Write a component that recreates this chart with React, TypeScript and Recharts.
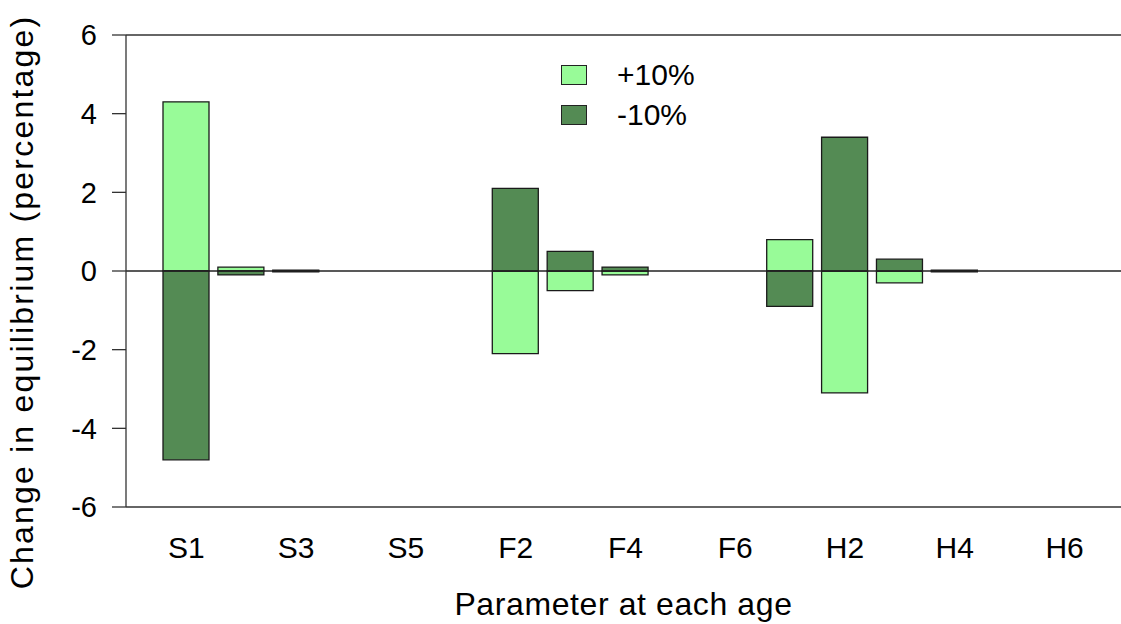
import React from "react";
import {
  Bar,
  BarChart,
  Label,
  Legend,
  ReferenceLine,
  XAxis,
  YAxis,
} from "recharts";

const categories = [
  "S1", "S2", "S3", "S4", "S5",
  "F1", "F2", "F3", "F4", "F5", "F6",
  "H1", "H2", "H3", "H4", "H5", "H6",
];
const plus10 = [4.3, 0.1, 0.02, 0, 0, 0, -2.1, -0.5, -0.1, 0, 0, 0.8, -3.1, -0.3, 0.02, 0, 0];
const minus10 = [-4.8, -0.1, -0.02, 0, 0, 0, 2.1, 0.5, 0.1, 0, 0, -0.9, 3.4, 0.3, -0.02, 0, 0];
const yTicks = [-6, -4, -2, 0, 2, 4, 6];

const types = [
  { key: "plus", name: "+10%", color: "#98FB98" },
  { key: "minus", name: "-10%", color: "#548B54" },
];

const font = "'Liberation Sans', Arial, sans-serif";

const data = categories.map((name, i) => ({
  name,
  plus: plus10[i],
  minus: minus10[i],
}));

const YTitle = () => (
  <text
    x={33}
    y={302}
    transform="rotate(-90, 33, 302)"
    textAnchor="middle"
    fontSize={32}
    letterSpacing={2.2}
    fontFamily={font}
    fill="#000"
  >
    Change in equilibrium (percentage)
  </text>
);

const LegendBox = () => (
  <div style={{ fontFamily: font, fontSize: 30, color: "#000" }}>
    {types.map((t) => (
      <div key={t.key} style={{ display: "flex", alignItems: "center", height: 40 }}>
        <div
          style={{
            width: 26,
            height: 20,
            background: t.color,
            border: "1.3px solid #222",
            boxSizing: "border-box",
          }}
        />
        <span style={{ marginLeft: 30, lineHeight: "40px" }}>{t.name}</span>
      </div>
    ))}
  </div>
);

export default function App() {
  return (
    <div style={{ position: "absolute", left: 0, top: 0, background: "#fff" }}>
      <BarChart
        width={1121}
        height={624}
        data={data}
        stackOffset="sign"
        margin={{ top: 35, right: 0, bottom: 0, left: 0 }}
      >
        <XAxis
          dataKey="name"
          axisLine={false}
          tickLine={false}
          interval={1}
          tickSize={0}
          tickMargin={30}
          height={117}
          padding={{ left: 33, right: 29 }}
          tick={{ fontSize: 30, fontFamily: font, fill: "#000" }}
        >
          <Label
            value="Parameter at each age"
            position="insideBottom"
            offset={9}
            style={{ fontSize: 32, letterSpacing: 0.6, fontFamily: font, fill: "#000" }}
          />
        </XAxis>
        <YAxis
          domain={[-6, 6]}
          ticks={yTicks}
          width={126}
          tickSize={14}
          tickMargin={15}
          axisLine={{ stroke: "#333", strokeWidth: 1.3 }}
          tickLine={{ stroke: "#333", strokeWidth: 1.3 }}
          tick={{ fontSize: 29, fontFamily: font, fill: "#000" }}
        >
          <Label content={<YTitle />} />
        </YAxis>
        <ReferenceLine y={6} stroke="#333" strokeWidth={1.3} />
        <ReferenceLine y={-6} stroke="#333" strokeWidth={1.3} />
        <Legend
          layout="vertical"
          align="center"
          verticalAlign="middle"
          content={<LegendBox />}
          wrapperStyle={{ left: 561, top: 55, width: 200 }}
        />
        {types.map((t) => (
          <Bar
            key={t.key}
            dataKey={t.key}
            name={t.name}
            stackId="a"
            fill={t.color}
            stroke="#1a1a1a"
            strokeWidth={1.3}
            barSize={46}
            isAnimationActive={false}
          />
        ))}
        <ReferenceLine y={0} stroke="#222" strokeWidth={1.3} />
      </BarChart>
    </div>
  );
}
